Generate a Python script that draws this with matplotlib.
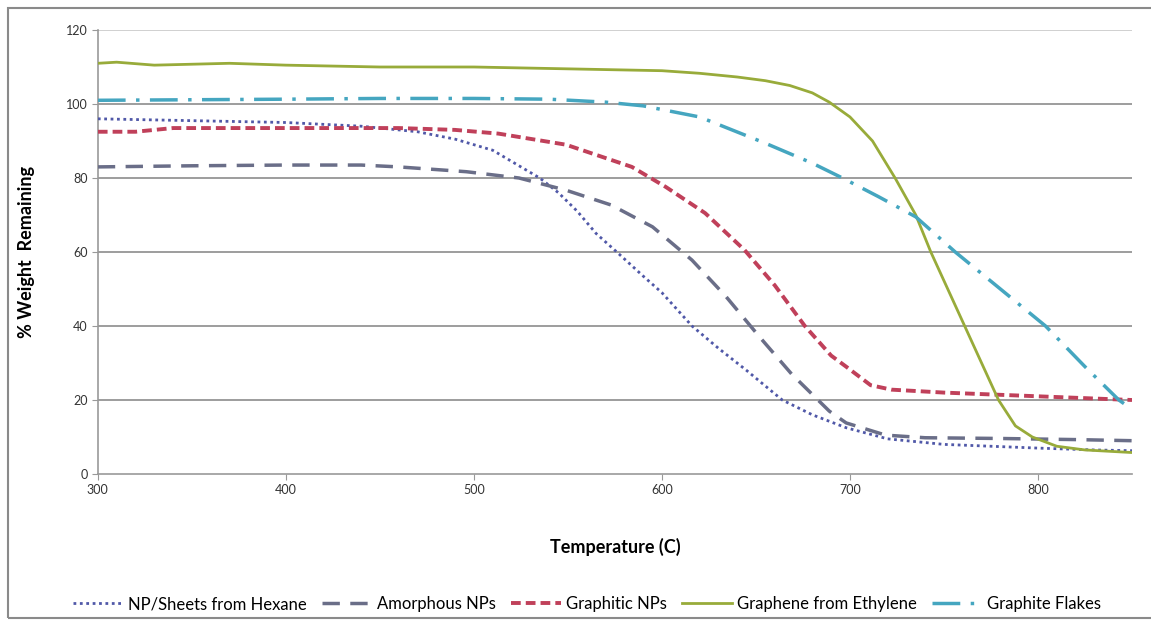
import matplotlib.pyplot as plt
from matplotlib.patches import Rectangle

# values (temperature in C, % weight remaining)
hexane_t = [300, 350, 400, 440, 470, 490, 510, 525, 535, 545, 555, 565, 576, 590, 600, 616, 630, 645, 664, 680, 698, 720, 750, 800, 830, 850]
hexane_w = [96, 95.5, 95, 94, 92.5, 90.5, 87.5, 83, 80, 76, 71, 65, 60, 53.5, 49, 40, 34, 28, 20, 16, 12.5, 9.5, 8, 7, 6.5, 6.3]

amorph_t = [300, 350, 400, 440, 460, 496, 524, 549, 573, 595, 616, 634, 652, 669, 689, 698, 719, 740, 780, 820, 850]
amorph_w = [83, 83.3, 83.5, 83.5, 83, 81.7, 80, 76.7, 72.7, 66.8, 57.8, 48, 37, 27, 17, 13.8, 10.5, 9.8, 9.6, 9.3, 9]

graphitic_t = [300, 320, 340, 400, 460, 490, 513, 549, 584, 602, 623, 644, 660, 676, 690, 698, 711, 722, 750, 800, 850]
graphitic_w = [92.5, 92.5, 93.5, 93.5, 93.5, 93, 92, 89, 83, 77.6, 70.5, 60.5, 51, 40, 32, 29, 24, 22.8, 22, 21, 20]

graphene_t = [300, 310, 330, 370, 400, 450, 500, 550, 600, 620, 640, 655, 668, 680, 689, 700, 712, 724, 735, 743, 752, 761, 770, 779, 788, 797, 810, 825, 850]
graphene_w = [111, 111.3, 110.5, 111, 110.5, 110, 110, 109.5, 109, 108.3, 107.3, 106.3, 105, 103, 100.5, 96.5, 90, 80, 70, 60, 50, 40, 30, 20, 13, 10, 7.5, 6.5, 5.8]

flakes_t = [300, 400, 450, 500, 540, 570, 590, 620, 655, 680, 696, 715, 735, 756, 780, 804, 825, 843, 850]
flakes_w = [101, 101.3, 101.5, 101.5, 101.3, 100.5, 99.5, 96.5, 89.4, 84, 80, 75, 69.5, 60, 50, 40, 29, 20, 17.5]

x_ticks = [300, 400, 500, 600, 700, 800]
y_ticks = [0, 20, 40, 60, 80, 100, 120]

plt.rcParams['font.family'] = ['Lato', 'DejaVu Sans']

fig = plt.figure(figsize=(11.51, 6.25), dpi=100)
ax = fig.add_axes([0.085, 0.2416, 0.8985, 0.7104])

# outer chart frame
fig.patches.append(Rectangle((0.007, 0.012), 1.0, 0.975, transform=fig.transFigure,
                             fill=False, edgecolor='#8a8a8a', linewidth=1.5))

for yv in y_ticks[1:]:
    ax.axhline(yv, color='#c8c8c8' if yv == 120 else '#8c8c8c', linewidth=1.2, zorder=1)

ax.plot(hexane_t, hexane_w, color='#5058a8', linestyle=(0, (1, 1.3)), linewidth=2, label='NP/Sheets from Hexane', zorder=3)
ax.plot(amorph_t, amorph_w, color='#6a6e88', linestyle=(0, (5, 3)), linewidth=2.5, label='Amorphous NPs', zorder=3)
ax.plot(graphitic_t, graphitic_w, color='#c0405a', linestyle=(0, (2.5, 1.3)), linewidth=2.8, label='Graphitic NPs', zorder=3)
ax.plot(graphene_t, graphene_w, color='#98ab3a', linestyle='-', linewidth=2, label='Graphene from Ethylene', zorder=3)
ax.plot(flakes_t, flakes_w, color='#45a6c0', linestyle=(0, (8, 3, 1, 3)), linewidth=2.5, label='Graphite Flakes', zorder=3)

ax.set_xlim(300, 850)
ax.set_ylim(0, 120)
ax.set_xticks(x_ticks)
ax.set_yticks(y_ticks)
ax.tick_params(labelsize=9, colors='#333333', length=4, color='#999999')

for s in ['top', 'right']:
    ax.spines[s].set_visible(False)
for s in ['left', 'bottom']:
    ax.spines[s].set_color('#999999')
    ax.spines[s].set_linewidth(1.2)

ax.set_xlabel('Temperature (C)', fontsize=13, fontweight='bold', labelpad=30)
ax.set_ylabel('% Weight  Remaining', fontsize=13, fontweight='bold', labelpad=22)

ax.legend(loc='center', bbox_to_anchor=(0.473, -0.293), ncol=5, frameon=False,
          fontsize=12, handlelength=3, columnspacing=0.9, handletextpad=0.3)

fig.savefig('out.png', dpi=100)
